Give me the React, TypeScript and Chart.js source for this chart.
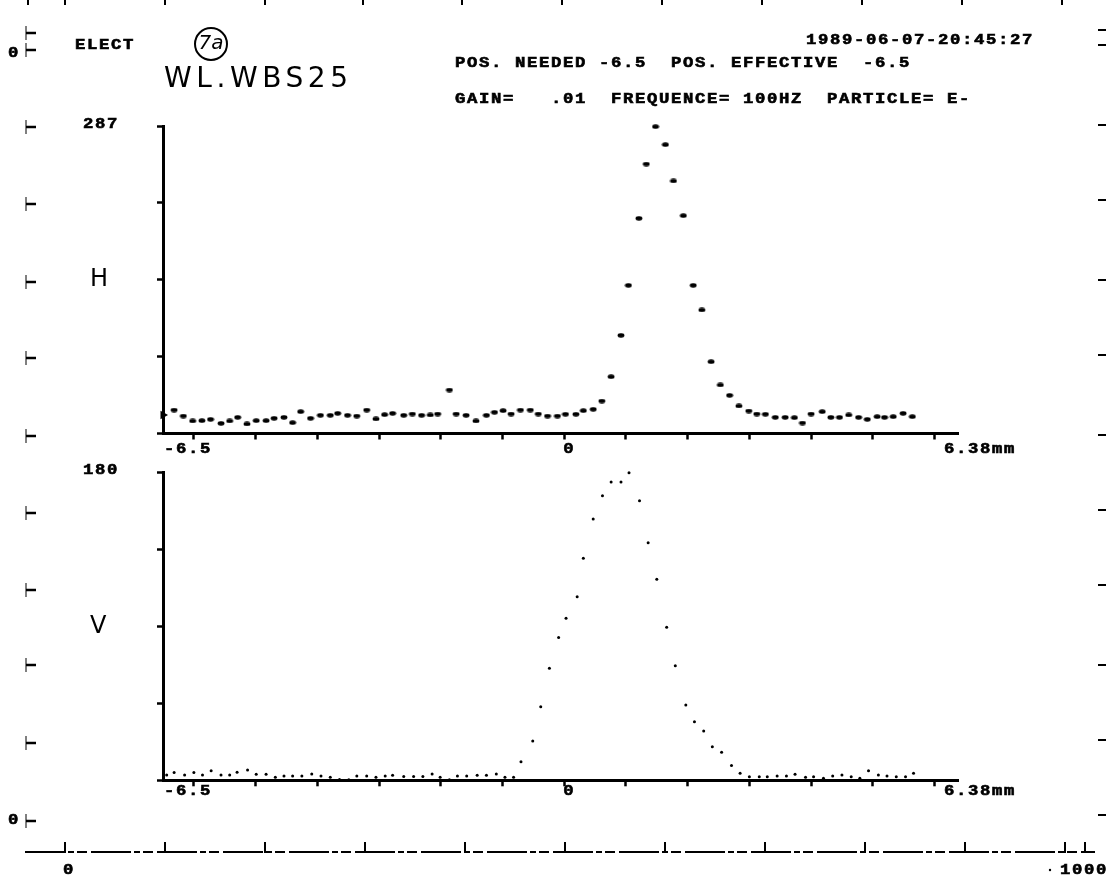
import React, { useEffect, useRef } from 'react';
import { Chart, registerables } from 'chart.js';

Chart.register(...registerables);

// ---------------- data ----------------
const X_MIN = -6.5;
const X_MAX = 6.38;
const X_TICKS = [-6, -5, -4, -3, -2, -1, 0, 1, 2, 3, 4, 5, 6];
const X_LABEL_VALUES = [-6.5, 0, 6.38];
const X_LABELS = ['-6.5', '0', '6.38mm'];

const H_NAME = 'H';
const H_MAX = 287;
const H_MAX_LABEL = '287';
const H_Y_TICKS = [0, 71.75, 143.5, 215.25, 287];
const H_X = [
  -6.5, -6.32, -6.17, -6.02, -5.87, -5.73, -5.56, -5.42, -5.29, -5.14,
  -4.99, -4.83, -4.7, -4.54, -4.4, -4.27, -4.11, -3.95, -3.79, -3.67,
  -3.51, -3.36, -3.2, -3.05, -2.91, -2.78, -2.6, -2.46, -2.31, -2.17,
  -2.05, -1.86, -1.75, -1.59, -1.43, -1.26, -1.13, -0.99, -0.86, -0.71,
  -0.55, -0.42, -0.27, -0.11, 0.02, 0.19, 0.31, 0.47, 0.61, 0.76,
  0.92, 1.04, 1.21, 1.33, 1.48, 1.64, 1.77, 1.93, 2.09, 2.23,
  2.38, 2.53, 2.68, 2.83, 2.99, 3.12, 3.26, 3.42, 3.58, 3.73,
  3.86, 4.0, 4.18, 4.32, 4.46, 4.61, 4.77, 4.91, 5.07, 5.19,
  5.33, 5.49, 5.64,
];
const H_Y = [
  17.3, 21.9, 16.3, 11.7, 12.0, 13.2, 9.5, 11.7, 15.1, 8.9,
  12.0, 12.0, 14.2, 15.1, 10.1, 20.4, 14.2, 17.0, 17.0, 18.8,
  17.0, 16.3, 21.9, 13.6, 17.6, 18.8, 17.0, 18.2, 17.0, 17.3,
  18.2, 40.6, 18.2, 17.0, 11.7, 17.0, 19.8, 21.3, 18.2, 21.9,
  21.9, 18.2, 16.3, 16.3, 18.0, 18.0, 21.3, 22.6, 30.3, 53.0,
  91.6, 138.3, 200.8, 251.5, 286.4, 269.6, 235.7, 203.3, 138.3, 115.3,
  67.0, 45.3, 35.6, 25.7, 21.0, 18.2, 18.0, 15.1, 15.1, 14.8,
  9.8, 18.2, 20.4, 15.1, 15.1, 17.3, 15.1, 13.2, 15.7, 15.1,
  15.7, 18.8, 15.7,
];

const V_NAME = 'V';
const V_MAX = 180;
const V_MAX_LABEL = '180';
const V_Y_TICKS = [0, 45, 90, 135, 180];
const V_X = [
  -6.44, -6.32, -6.15, -6.0, -5.86, -5.72, -5.56, -5.42, -5.3, -5.13,
  -4.99, -4.83, -4.68, -4.54, -4.4, -4.25, -4.09, -3.94, -3.79, -3.64,
  -3.49, -3.36, -3.2, -3.05, -2.9, -2.78, -2.6, -2.44, -2.29, -2.14,
  -2.01, -1.86, -1.73, -1.58, -1.41, -1.26, -1.1, -0.96, -0.82, -0.7,
  -0.51, -0.38, -0.24, -0.09, 0.03, 0.21, 0.31, 0.47, 0.62, 0.76,
  0.92, 1.05, 1.22, 1.36, 1.5, 1.66, 1.8, 1.97, 2.11, 2.26,
  2.4, 2.55, 2.71, 2.85, 3.0, 3.16, 3.29, 3.45, 3.6, 3.74,
  3.91, 4.04, 4.2, 4.35, 4.5, 4.65, 4.79, 4.93, 5.09, 5.23,
  5.38, 5.53, 5.66,
];
const V_Y = [
  3.1, 4.5, 3.1, 4.5, 3.1, 5.6, 3.1, 3.1, 4.7, 6.0,
  3.5, 3.5, 1.8, 2.5, 2.5, 2.5, 3.7, 2.5, 1.8, 0.5,
  0.3, 2.5, 2.5, 1.8, 2.5, 3.0, 2.2, 2.2, 2.2, 3.7,
  1.8, 0.3, 2.5, 2.5, 3.0, 3.0, 3.7, 1.8, 1.8, 10.9,
  23.0, 43.1, 65.5, 83.5, 94.8, 107.4, 129.9, 152.9, 166.5, 174.5,
  174.5, 180.0, 163.6, 139.0, 117.6, 89.5, 67.1, 44.1, 34.3, 28.8,
  19.7, 16.4, 8.6, 4.1, 2.1, 2.1, 2.1, 2.5, 2.5, 3.5,
  1.8, 2.1, 1.2, 2.5, 3.1, 2.1, 1.2, 5.6, 3.1, 2.5,
  2.1, 2.1, 4.1,
];

const DEVICE = 'ELECT';
const PLATE = '7a';
const TITLE = 'WL.WBS25';
const STAMP = '1989-06-07-20:45:27';
const POS_LINE = 'POS. NEEDED -6.5  POS. EFFECTIVE  -6.5';
const GAIN_LINE = 'GAIN=   .01  FREQUENCE= 100HZ  PARTICLE= E-';
const FRAME_ZERO = '0';
const RULER_LABELS = ['0', '1000'];

// ---------------- helpers ----------------
const MONO = 'bold 15px "Liberation Mono"';
const SX = 1.15;

// plotter-style block text: monospaced cells of `pitch` px, glyphs widened
function plot(ctx: any, text: string, x: number, y: number, pitch = 12) {
  ctx.save();
  ctx.font = MONO;
  ctx.letterSpacing = '0px';
  const adv = ctx.measureText('0').width;
  ctx.translate(x, y);
  ctx.scale(SX, 1);
  ctx.letterSpacing = pitch / SX - adv + 'px';
  ctx.textAlign = 'left';
  ctx.textBaseline = 'middle';
  ctx.fillStyle = '#000';
  ctx.strokeStyle = '#000';
  ctx.lineWidth = 0.6;
  ctx.fillText(text, 0, 0);
  ctx.strokeText(text, 0, 0);
  ctx.restore();
}

function fit(ctx: any, text: string, x: number, y: number, width: number, font: string) {
  ctx.font = font;
  ctx.letterSpacing = '0px';
  const w = ctx.measureText(text).width;
  const n = Array.from(text).length;
  ctx.letterSpacing = (n > 1 ? (width - w) / (n - 1) : 0) + 'px';
  ctx.textAlign = 'left';
  ctx.textBaseline = 'middle';
  ctx.fillText(text, x, y);
  ctx.letterSpacing = '0px';
}

const axisTextPlugin = {
  id: 'axisText',
  afterDraw(chart: any, _args: any, opts: any) {
    const { ctx, chartArea: a, scales } = chart;
    const xs = scales.x;
    const ys = scales.y;
    ctx.save();
    ctx.fillStyle = '#000';
    const offs = [1, -1, -14];
    X_LABEL_VALUES.forEach((v, i) => {
      plot(ctx, X_LABELS[i], xs.getPixelForValue(v) + offs[i], a.bottom + opts.labelGap);
    });
    plot(ctx, opts.top, a.left - 80, ys.getPixelForValue(opts.max) - 2);
    ctx.font = '24px "DejaVu Sans"';
    ctx.textAlign = 'left';
    ctx.textBaseline = 'middle';
    ctx.fillText(opts.name, a.left - 73, ys.getPixelForValue(opts.max / 2));
    ctx.restore();
  },
};

const framePlugin = {
  id: 'frame',
  afterDraw(chart: any) {
    const ctx = chart.ctx;
    ctx.save();
    ctx.fillStyle = '#000';
    ctx.strokeStyle = '#000';
    const seg = (x1: number, y1: number, x2: number, y2: number, w: number) => {
      ctx.lineWidth = w;
      ctx.beginPath();
      ctx.moveTo(x1, y1);
      ctx.lineTo(x2, y2);
      ctx.stroke();
    };
    // top edge marks
    [28, 65, 165, 265, 363, 462, 562, 662, 762, 862, 962, 1062].forEach((x) => seg(x, 0, x, 5, 2));
    // left frame ticks
    [33, 50, 127, 204, 282, 358, 436, 513, 590, 665, 743, 821].forEach((y) => {
      seg(26, y - 7, 26, y + 7, 1);
      seg(26, y, 36, y, 2.5);
    });
    // right frame ticks
    [30, 45, 125, 200, 280, 355, 435, 510, 585, 665, 740, 815].forEach((y) => seg(1098, y, 1106, y, 2));
    // bottom ruler
    ctx.setLineDash([40, 3, 6, 3, 10, 4]);
    seg(25, 852, 1095, 852, 1.8);
    ctx.setLineDash([]);
    [65, 165, 265, 365, 465, 565, 665, 765, 865, 965, 1065, 1085].forEach((x) => seg(x, 853, x, 842, 2));
    plot(ctx, RULER_LABELS[0], 63, 870);
    plot(ctx, RULER_LABELS[1], 1060, 870);
    ctx.beginPath();
    ctx.arc(1050, 870, 1.2, 0, Math.PI * 2);
    ctx.fill();
    // frame zeros
    plot(ctx, FRAME_ZERO, 8, 53);
    plot(ctx, FRAME_ZERO, 8, 820);
    // header
    plot(ctx, DEVICE, 75, 45);
    ctx.lineWidth = 2;
    ctx.beginPath();
    ctx.arc(211, 44, 16, 0, Math.PI * 2);
    ctx.stroke();
    ctx.font = 'italic 20px "DejaVu Sans"';
    ctx.textAlign = 'center';
    ctx.textBaseline = 'middle';
    ctx.fillText(PLATE, 211, 44);
    fit(ctx, TITLE, 164, 80, 184, '28px "DejaVu Sans"');
    plot(ctx, STAMP, 806, 40);
    plot(ctx, POS_LINE, 455, 63);
    plot(ctx, GAIN_LINE, 455, 99);
    ctx.restore();
  },
};

function axis(min: number, max: number, ticks: number[]) {
  return {
    type: 'linear',
    min,
    max,
    afterBuildTicks: (s: any) => {
      s.ticks = ticks.map((v) => ({ value: v }));
    },
    ticks: { display: false },
    grid: {
      display: true,
      drawOnChartArea: false,
      drawTicks: true,
      tickLength: 6,
      tickWidth: 2.5,
      tickColor: '#000',
      color: '#000',
    },
    border: { display: true, color: '#000', width: 3 },
  };
}

function makeConfig(
  xs: number[],
  ys: number[],
  max: number,
  yTicks: number[],
  padding: any,
  text: any,
  point: any,
  plugins: any[],
) {
  return {
    type: 'scatter',
    data: {
      datasets: [
        {
          data: xs.map((x, i) => ({ x, y: ys[i] })),
          backgroundColor: '#000',
          borderColor: '#000',
          borderWidth: 0,
          clip: 12,
          ...point,
        },
      ],
    },
    options: {
      responsive: false,
      animation: false,
      events: [],
      layout: { padding },
      plugins: { legend: { display: false }, tooltip: { enabled: false }, axisText: text },
      scales: {
        x: axis(X_MIN, X_MAX, X_TICKS),
        y: axis(0, max, yTicks),
      },
    },
    plugins,
  };
}

export default function App() {
  const hRef = useRef<HTMLCanvasElement>(null);
  const vRef = useRef<HTMLCanvasElement>(null);

  useEffect(() => {
    const dot = document.createElement('canvas');
    dot.width = 8;
    dot.height = 5;
    const dc = dot.getContext('2d')!;
    dc.fillStyle = '#000';
    dc.beginPath();
    dc.ellipse(4, 2.5, 3.4, 2.2, 0, 0, Math.PI * 2);
    dc.fill();

    const h = new Chart(
      hRef.current!,
      makeConfig(
        H_X,
        H_Y,
        H_MAX,
        H_Y_TICKS,
        { left: 157, right: 153, top: 126, bottom: 441.5 },
        { top: H_MAX_LABEL, name: H_NAME, max: H_MAX, labelGap: 16 },
        {
          pointStyle: (c: any) => (c.dataIndex === 0 ? 'triangle' : dot),
          pointRadius: (c: any) => (c.dataIndex === 0 ? 5 : 3),
          pointRotation: (c: any) => (c.dataIndex === 0 ? 90 : 0),
        },
        [axisTextPlugin, framePlugin],
      ) as any,
    );
    const v = new Chart(
      vRef.current!,
      makeConfig(
        V_X,
        V_Y,
        V_MAX,
        V_Y_TICKS,
        { left: 157, right: 153, top: 472.7, bottom: 94.7 },
        { top: V_MAX_LABEL, name: V_NAME, max: V_MAX, labelGap: 11 },
        { pointStyle: 'circle', pointRadius: 1.5 },
        [axisTextPlugin],
      ) as any,
    );
    return () => {
      h.destroy();
      v.destroy();
    };
  }, []);

  const cs: React.CSSProperties = { position: 'absolute', left: 0, top: 0, width: 1111, height: 881 };
  return (
    <div style={{ position: 'absolute', left: 0, top: 0, width: 1111, height: 881, background: '#fff', overflow: 'hidden' }}>
      <canvas ref={hRef} width={1111} height={881} style={cs} />
      <canvas ref={vRef} width={1111} height={881} style={cs} />
    </div>
  );
}
